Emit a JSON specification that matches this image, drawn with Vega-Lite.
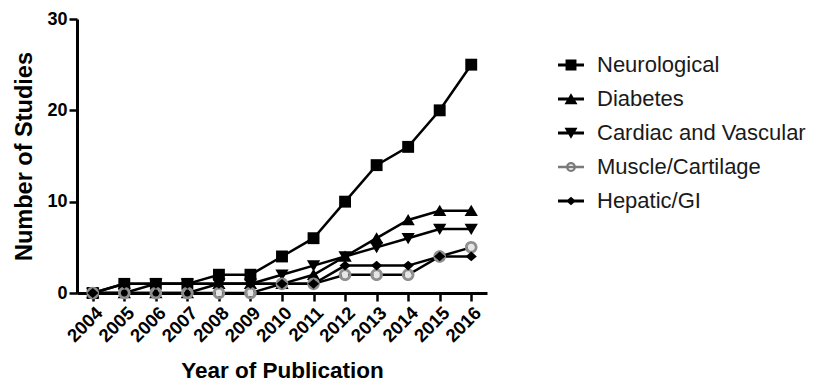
{
  "$schema": "https://vega.github.io/schema/vega-lite/v6.json",
  "width": 410,
  "height": 274,
  "autosize": {"type": "none"},
  "padding": {"left": 77, "top": 19, "right": 330, "bottom": 91},
  "background": "white",
  "config": {
    "view": {"stroke": null},
    "font": "Liberation Sans",
    "axis": {
      "grid": false,
      "domainColor": "black",
      "domainWidth": 3,
      "tickColor": "black",
      "tickWidth": 2.5,
      "tickSize": 8,
      "labelColor": "black",
      "labelFont": "Liberation Sans",
      "labelFontWeight": "bold",
      "titleColor": "black",
      "titleFont": "Liberation Sans",
      "titleFontWeight": "bold"
    },
    "legend": {
      "orient": "none",
      "legendX": 481,
      "legendY": 33,
      "labelFont": "Liberation Sans",
      "labelFontSize": 22,
      "labelColor": "#1a1a1a",
      "labelOffset": 13,
      "labelLimit": 400,
      "symbolSize": 676,
      "symbolStrokeWidth": 0,
      "symbolOpacity": 1,
      "rowPadding": 10,
      "title": null
    }
  },
  "data": {
    "values": [
      {"year": "2004", "series": "Neurological", "count": 0},
      {"year": "2005", "series": "Neurological", "count": 1},
      {"year": "2006", "series": "Neurological", "count": 1},
      {"year": "2007", "series": "Neurological", "count": 1},
      {"year": "2008", "series": "Neurological", "count": 2},
      {"year": "2009", "series": "Neurological", "count": 2},
      {"year": "2010", "series": "Neurological", "count": 4},
      {"year": "2011", "series": "Neurological", "count": 6},
      {"year": "2012", "series": "Neurological", "count": 10},
      {"year": "2013", "series": "Neurological", "count": 14},
      {"year": "2014", "series": "Neurological", "count": 16},
      {"year": "2015", "series": "Neurological", "count": 20},
      {"year": "2016", "series": "Neurological", "count": 25},
      {"year": "2004", "series": "Diabetes", "count": 0},
      {"year": "2005", "series": "Diabetes", "count": 0},
      {"year": "2006", "series": "Diabetes", "count": 0},
      {"year": "2007", "series": "Diabetes", "count": 0},
      {"year": "2008", "series": "Diabetes", "count": 1},
      {"year": "2009", "series": "Diabetes", "count": 1},
      {"year": "2010", "series": "Diabetes", "count": 1},
      {"year": "2011", "series": "Diabetes", "count": 2},
      {"year": "2012", "series": "Diabetes", "count": 4},
      {"year": "2013", "series": "Diabetes", "count": 6},
      {"year": "2014", "series": "Diabetes", "count": 8},
      {"year": "2015", "series": "Diabetes", "count": 9},
      {"year": "2016", "series": "Diabetes", "count": 9},
      {"year": "2004", "series": "Cardiac and Vascular", "count": 0},
      {"year": "2005", "series": "Cardiac and Vascular", "count": 0},
      {"year": "2006", "series": "Cardiac and Vascular", "count": 1},
      {"year": "2007", "series": "Cardiac and Vascular", "count": 1},
      {"year": "2008", "series": "Cardiac and Vascular", "count": 1},
      {"year": "2009", "series": "Cardiac and Vascular", "count": 1},
      {"year": "2010", "series": "Cardiac and Vascular", "count": 2},
      {"year": "2011", "series": "Cardiac and Vascular", "count": 3},
      {"year": "2012", "series": "Cardiac and Vascular", "count": 4},
      {"year": "2013", "series": "Cardiac and Vascular", "count": 5},
      {"year": "2014", "series": "Cardiac and Vascular", "count": 6},
      {"year": "2015", "series": "Cardiac and Vascular", "count": 7},
      {"year": "2016", "series": "Cardiac and Vascular", "count": 7},
      {"year": "2004", "series": "Muscle/Cartilage", "count": 0},
      {"year": "2005", "series": "Muscle/Cartilage", "count": 0},
      {"year": "2006", "series": "Muscle/Cartilage", "count": 0},
      {"year": "2007", "series": "Muscle/Cartilage", "count": 0},
      {"year": "2008", "series": "Muscle/Cartilage", "count": 0},
      {"year": "2009", "series": "Muscle/Cartilage", "count": 0},
      {"year": "2010", "series": "Muscle/Cartilage", "count": 1},
      {"year": "2011", "series": "Muscle/Cartilage", "count": 1},
      {"year": "2012", "series": "Muscle/Cartilage", "count": 2},
      {"year": "2013", "series": "Muscle/Cartilage", "count": 2},
      {"year": "2014", "series": "Muscle/Cartilage", "count": 2},
      {"year": "2015", "series": "Muscle/Cartilage", "count": 4},
      {"year": "2016", "series": "Muscle/Cartilage", "count": 5},
      {"year": "2004", "series": "Hepatic/GI", "count": 0},
      {"year": "2005", "series": "Hepatic/GI", "count": 1},
      {"year": "2006", "series": "Hepatic/GI", "count": 1},
      {"year": "2007", "series": "Hepatic/GI", "count": 1},
      {"year": "2008", "series": "Hepatic/GI", "count": 1},
      {"year": "2009", "series": "Hepatic/GI", "count": 1},
      {"year": "2010", "series": "Hepatic/GI", "count": 1},
      {"year": "2011", "series": "Hepatic/GI", "count": 1},
      {"year": "2012", "series": "Hepatic/GI", "count": 3},
      {"year": "2013", "series": "Hepatic/GI", "count": 3},
      {"year": "2014", "series": "Hepatic/GI", "count": 3},
      {"year": "2015", "series": "Hepatic/GI", "count": 4},
      {"year": "2016", "series": "Hepatic/GI", "count": 4}
    ]
  },
  "encoding": {
    "x": {
      "field": "year",
      "type": "ordinal",
      "scale": {"type": "point", "padding": 0.5},
      "axis": {
        "title": "Year of Publication",
        "labelAngle": -45,
        "labelFontSize": 18.5,
        "labelPadding": 2,
        "titlePadding": 14,
        "titleFontSize": 22.5
      }
    },
    "y": {
      "field": "count",
      "type": "quantitative",
      "scale": {"domain": [0, 30], "nice": false},
      "axis": {
        "title": "Number of Studies",
        "values": [0, 10, 20, 30],
        "labelFontSize": 18,
        "labelPadding": 2,
        "titlePadding": 10,
        "titleFontSize": 23.5
      }
    }
  },
  "layer": [
    {
      "mark": {"type": "line", "color": "black", "strokeWidth": 2.5},
      "encoding": {"detail": {"field": "series"}}
    },
    {
      "transform": [{"filter": "datum.series === 'Muscle/Cartilage'"}],
      "mark": {"type": "point", "shape": "circle", "filled": true, "size": 45, "color": "#e6e6e6", "opacity": 1, "strokeWidth": 0}
    },
    {
      "mark": {"type": "point", "filled": true, "size": 196, "strokeWidth": 0, "opacity": 1},
      "encoding": {
        "shape": {
          "field": "series",
          "type": "nominal",
          "scale": {
            "domain": ["Neurological", "Diabetes", "Cardiac and Vascular", "Muscle/Cartilage", "Hepatic/GI"],
            "range": [
              "M-0.85,-0.85H0.85V0.85H-0.85Z",
              "M0,-0.85L0.95,0.75H-0.95Z",
              "M-0.95,-0.75H0.95L0,0.85Z",
              "M-0.9,0A0.9,0.9 0 1,1 0.9,0A0.9,0.9 0 1,1 -0.9,0Z M-0.5,0A0.5,0.5 0 1,0 0.5,0A0.5,0.5 0 1,0 -0.5,0Z",
              "M0,-0.7L0.8,0L0,0.7L-0.8,0Z"
            ]
          },
          "legend": null
        },
        "fill": {
          "field": "series",
          "type": "nominal",
          "scale": {
            "domain": ["Neurological", "Diabetes", "Cardiac and Vascular", "Muscle/Cartilage", "Hepatic/GI"],
            "range": ["#000000", "#000000", "#000000", "#8f8f8f", "#000000"]
          },
          "legend": null
        }
      }
    },
    {
      "mark": {"type": "point", "filled": true, "size": 0, "strokeWidth": 0, "opacity": 1},
      "encoding": {
        "shape": {
          "field": "series",
          "type": "nominal",
          "scale": {
            "domain": ["Neurological", "Diabetes", "Cardiac and Vascular", "Muscle/Cartilage", "Hepatic/GI"],
            "range": [
              "M-1,-0.11H1V0.11H-1Z M-0.42,-0.42H0.42V0.42H-0.42Z",
              "M-1,-0.11H1V0.11H-1Z M0,-0.45L0.5,0.4H-0.5Z",
              "M-1,-0.11H1V0.11H-1Z M-0.5,-0.4H0.5L0,0.45Z",
              "M-1,-0.1H1V0.1H-1Z M-0.38,0A0.38,0.38 0 1,1 0.38,0A0.38,0.38 0 1,1 -0.38,0Z M-0.22,0A0.22,0.22 0 1,0 0.22,0A0.22,0.22 0 1,0 -0.22,0Z",
              "M-1,-0.11H1V0.11H-1Z M0,-0.32L0.38,0L0,0.32L-0.38,0Z"
            ]
          },
          "legend": {"symbolSize": 676, "symbolStrokeWidth": 0}
        },
        "fill": {
          "field": "series",
          "type": "nominal",
          "scale": {
            "domain": ["Neurological", "Diabetes", "Cardiac and Vascular", "Muscle/Cartilage", "Hepatic/GI"],
            "range": ["#000000", "#000000", "#000000", "#7a7a7a", "#000000"]
          },
          "legend": null
        }
      }
    }
  ],
  "resolve": {"scale": {"shape": "independent", "fill": "independent"}, "legend": {"shape": "independent"}}
}
